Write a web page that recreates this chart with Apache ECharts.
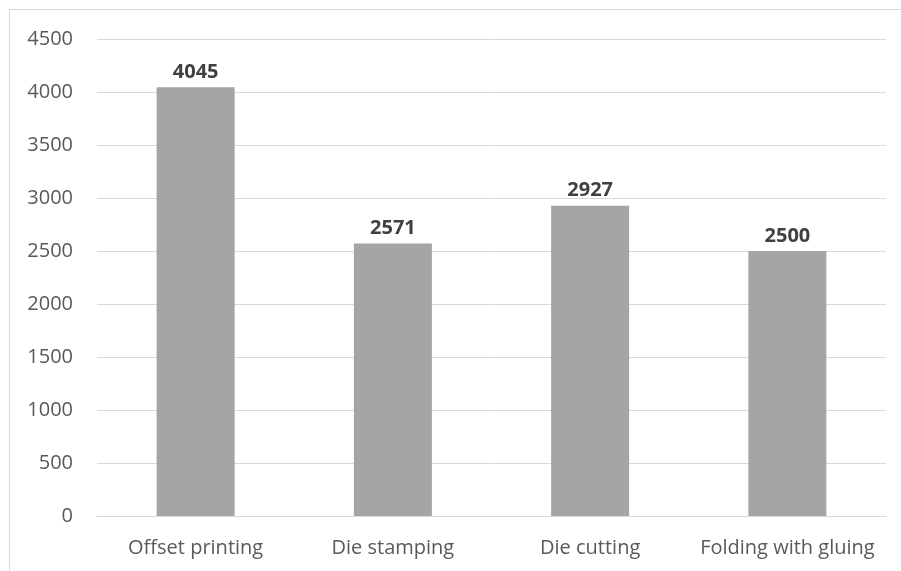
<!DOCTYPE html>
<html>
<head>
<meta charset="utf-8">
<script src="https://cdn.jsdelivr.net/npm/echarts@6/dist/echarts.min.js"></script>
<style>
  html, body { margin: 0; padding: 0; background: #fff; }
  #chart { width: 901px; height: 571px; }
</style>
</head>
<body>
<div id="chart"></div>
<script>
// Operations and their counts
const categories = ['Offset printing', 'Die stamping', 'Die cutting', 'Folding with gluing'];
const values = [4045, 2571, 2927, 2500];
const yTicks = { min: 0, max: 4500, interval: 500 };

const chart = echarts.init(document.getElementById('chart'));
const fontFamily = '"Open Sans", "Liberation Sans", sans-serif';

chart.setOption({
  animation: false,
  backgroundColor: '#ffffff',
  graphic: [{
    type: 'rect',
    shape: { x: 9.5, y: 9.5, width: 1000, height: 1000 },
    style: { fill: 'none', stroke: '#d9d9d9', lineWidth: 1 },
    silent: true
  }],
  grid: { left: 97, right: 15, top: 39, bottom: 55, containLabel: false },
  xAxis: {
    type: 'category',
    data: categories,
    axisLine: { show: true, lineStyle: { color: '#d9d9d9', width: 1 } },
    axisTick: { show: false },
    axisLabel: {
      color: '#595959', fontSize: 20, fontFamily: fontFamily, margin: 22,
      interval: 0, hideOverlap: false
    }
  },
  yAxis: {
    type: 'value',
    min: yTicks.min,
    max: yTicks.max,
    interval: yTicks.interval,
    axisLine: { show: false },
    axisTick: { show: false },
    splitLine: { lineStyle: { color: '#d9d9d9', width: 1 } },
    axisLabel: {
      color: '#595959', fontSize: 20, fontFamily: fontFamily, margin: 24,
      formatter: v => String(v)
    }
  },
  series: [{
    type: 'bar',
    data: values,
    barWidth: 78,
    itemStyle: { color: '#a5a5a5' },
    label: {
      show: true,
      position: 'top',
      distance: 5,
      color: '#404040',
      fontSize: 20,
      fontWeight: 'bold',
      fontFamily: fontFamily
    }
  }]
});
</script>
</body>
</html>
